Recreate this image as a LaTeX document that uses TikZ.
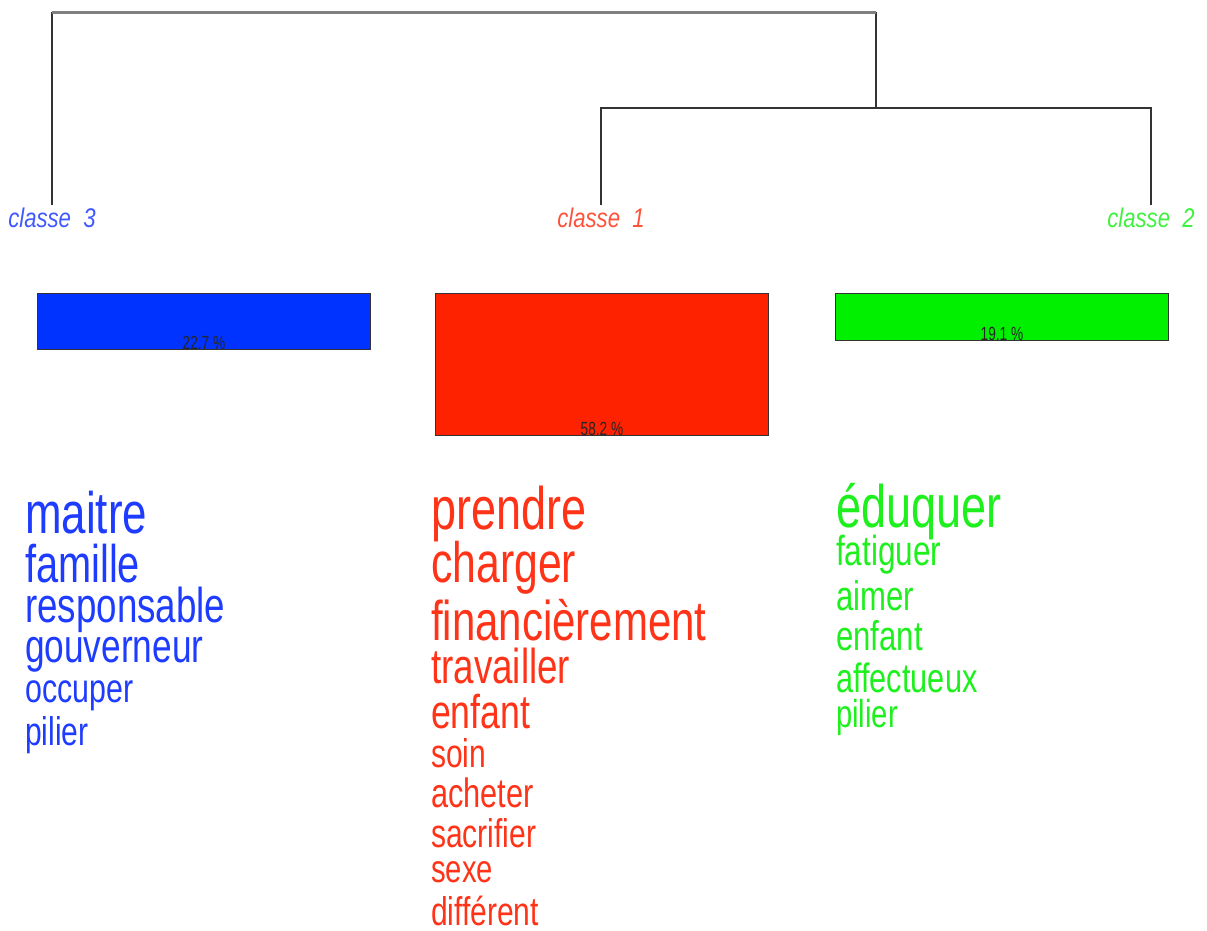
\documentclass[tikz,border=0pt]{standalone}
\usepackage{fontspec}
\setmainfont{Liberation Sans}

\definecolor{bluebar}{HTML}{0033FF}
\definecolor{redbar}{HTML}{FF2200}
\definecolor{greenbar}{HTML}{00F000}
\definecolor{blueword}{HTML}{1E3CFF}
\definecolor{redword}{HTML}{FF3318}
\definecolor{greenword}{HTML}{1EF01E}

\tikzset{
  branch/.style={draw=black!80, line width=1.3pt},
  rootbar/.style={draw=black!50, line width=3pt},
  classlbl/.style={font=\fontsize{27}{27}\selectfont\itshape, inner sep=2pt, anchor=base, xscale=0.82},
  bar/.style={draw=black!80, line width=1pt, anchor=north west, minimum width=333pt, inner sep=0pt},
  pct/.style={font=\fontsize{19}{19}\selectfont, text=black!85, anchor=base, inner sep=0pt, xscale=0.72},
  word/.style={anchor=base west, inner sep=0pt, xscale=0.75}
}

\begin{document}
\begin{tikzpicture}[x=1pt,y=-1pt]
  \useasboundingbox (0,0) rectangle (1207,931);

  % class labels under the tree
  \node[classlbl, text=blueword!85!white] (cl3) at (52,227) {classe\ \ 3};
  \node[classlbl, text=redword!85!white] (cl1) at (601,227) {classe\ \ 1};
  \node[classlbl, text=greenword!85!white] (cl2) at (1151,227) {classe\ \ 2};

  % dendrogram
  \coordinate (m12) at (876,108);
  \coordinate (root) at (464,13);
  \draw[branch] (cl1.north) |- (m12) -| (cl2.north);
  \draw[branch] (cl3.north) |- (root) -| (m12);
  \draw[rootbar] (cl3.north |- root) -- (m12 |- root);

  % class size bars
  \node[bar, fill=bluebar, minimum height=56pt] (bar3) at (37,293) {};
  \node[bar, fill=redbar, minimum height=142pt] (bar1) at (435,293) {};
  \node[bar, fill=greenbar, minimum height=47pt] (bar2) at (835,293) {};
  \node[pct] (p3) at ([yshift=1pt]bar3.south) {22.7 \%};
  \node[pct] (p1) at ([yshift=1pt]bar1.south) {58.2 \%};
  \node[pct] (p2) at ([yshift=1pt]bar2.south) {19.1 \%};

  % words of each class
  \foreach \wrd/\sz/\yb [count=\i] in {maitre/58.5/533, famille/53/582,
      responsable/49/622, gouverneur/47/662, occuper/40.5/702, pilier/40/745}
    \node[word, text=blueword, font=\fontsize{\sz}{\sz}\selectfont] (w3-\i) at (25,\yb) {\wrd};
  \foreach \wrd/\sz/\yb [count=\i] in {prendre/60/529, charger/57/582,
      financièrement/56/640, travailler/49/683, enfant/47.5/728, soin/40/767,
      acheter/41/807, sacrifier/40/847, sexe/39/882, différent/40/925}
    \node[word, text=redword, font=\fontsize{\sz}{\sz}\selectfont] (w1-\i) at (431,\yb) {\wrd};
  \foreach \wrd/\sz/\yb [count=\i] in {éduquer/60/527, fatiguer/42/565,
      aimer/41.5/610, enfant/41.5/650, affectueux/41/692, pilier/39/727}
    \node[word, text=greenword, font=\fontsize{\sz}{\sz}\selectfont] (w2-\i) at (836,\yb) {\wrd};
\end{tikzpicture}
\end{document}
